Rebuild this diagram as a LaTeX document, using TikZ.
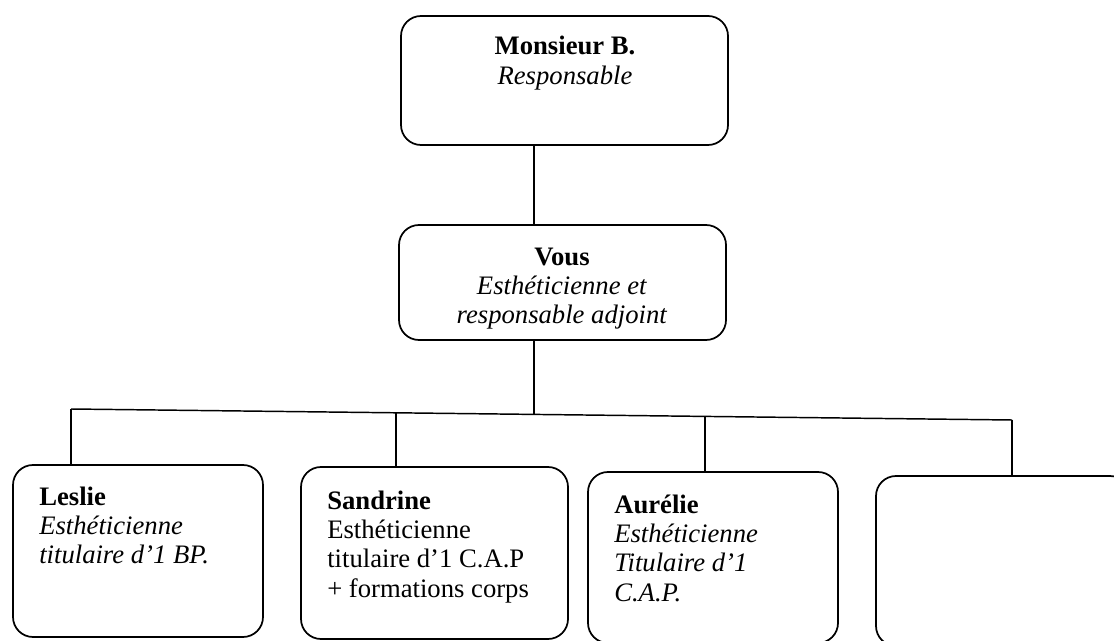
\documentclass[tikz,border=0pt]{standalone}
\usepackage{fontspec}
\setmainfont{Liberation Serif}
\usetikzlibrary{fit}
\begin{document}
\begin{tikzpicture}[x=0.75pt,y=-0.75pt,
  box/.style={draw, line width=1.3pt, rounded corners=15pt, inner sep=0pt},
  conn/.style={line width=1.1pt},
  txt/.style={font=\fontsize{20pt}{22pt}\selectfont, inner sep=0pt},
]
\useasboundingbox (0,0) rectangle (1114,641);
\clip (0,0) rectangle (1114,641);
% boxes
\node[box, fit={(401,16) (728,145)}] (top) {};
\node[box, fit={(399,225) (726,340)}] (vous) {};
\node[box, fit={(13,465) (263,637)}] (leslie) {};
\node[box, fit={(301,467) (568,639)}] (sandrine) {};
\node[box, fit={(588,472) (838,643)}] (aurelie) {};
\node[box, fit={(876,476) (1130,646)}] (blank) {};
% texts (anchor = baseline of the last line)
\node[txt, align=center, anchor=base] (topt) at (565,84.3) {\textbf{Monsieur B.}\\\textit{Responsable}};
\node[txt, align=center, anchor=base] (voust) at (562,323.7) {\textbf{Vous}\\\textit{Esthéticienne et}\\\textit{responsable adjoint}};
\node[txt, align=left, anchor=base west] (lesliet) at (39,563.7) {\textbf{Leslie}\\\textit{Esthéticienne}\\\textit{titulaire d’1 BP.}};
\node[txt, align=left, anchor=base west] (sandrinet) at (327,597) {\textbf{Sandrine}\\Esthéticienne\\titulaire d’1 C.A.P\\+ formations corps};
\node[txt, align=left, anchor=base west] (aureliet) at (614,601) {\textbf{Aurélie}\\\textit{Esthéticienne}\\\textit{Titulaire d’1}\\\textit{C.A.P.}};
% connectors
\coordinate (trunk) at (534,414.4);
\coordinate (b1) at (71,409);
\coordinate (b2) at (396,412.8);
\coordinate (b3) at (705,416.4);
\coordinate (b4) at (1012,420);
\draw[conn] (top.south -| trunk) -- (vous.north -| trunk);
\draw[conn] (vous.south -| trunk) -- (trunk);
\draw[conn] (b1) -- (b4);
\draw[conn] (b1) -- (leslie.north -| b1);
\draw[conn] (b2) -- (sandrine.north -| b2);
\draw[conn] (b3) -- (aurelie.north -| b3);
\draw[conn] (b4) -- (blank.north -| b4);
\end{tikzpicture}
\end{document}
